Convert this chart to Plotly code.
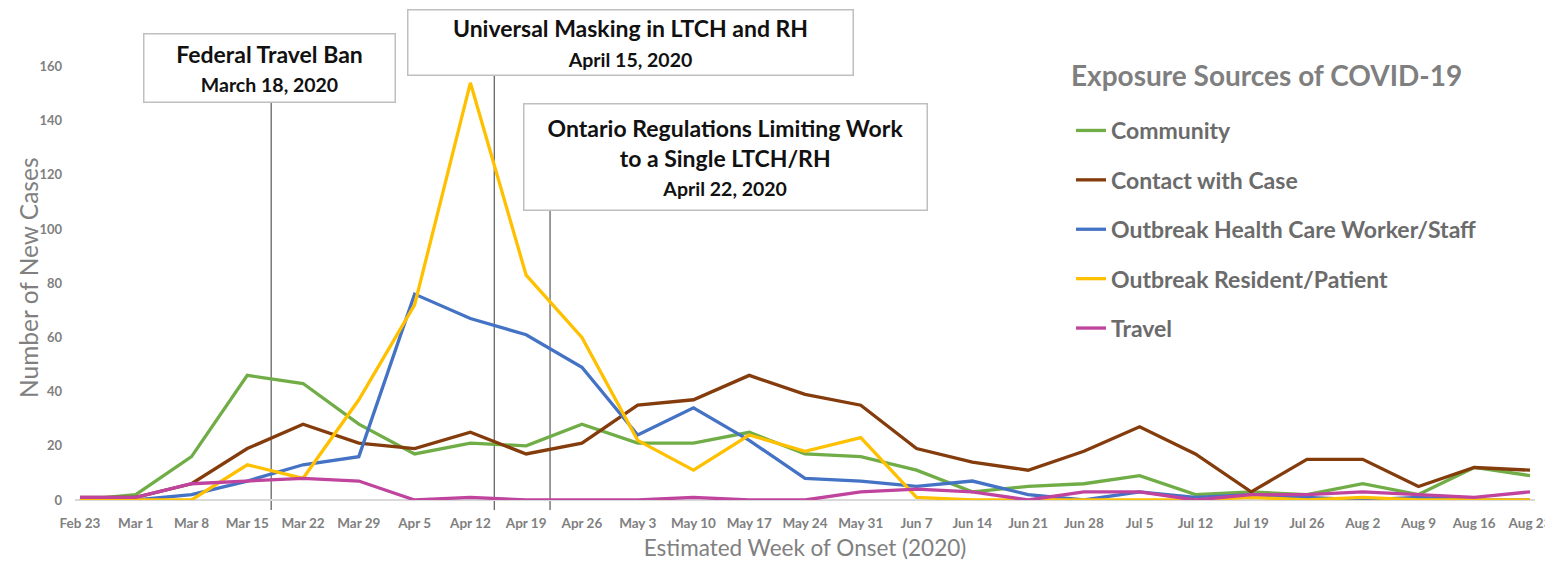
import plotly.graph_objects as go
import pandas as pd

weeks = pd.date_range("2020-02-23", "2020-08-23", freq="7D")
week_labels = ["Feb 23", "Mar 1", "Mar 8", "Mar 15", "Mar 22", "Mar 29", "Apr 5", "Apr 12",
               "Apr 19", "Apr 26", "May 3", "May 10", "May 17", "May 24", "May 31", "Jun 7",
               "Jun 14", "Jun 21", "Jun 28", "Jul 5", "Jul 12", "Jul 19", "Jul 26", "Aug 2",
               "Aug 9", "Aug 16", "Aug 23"]

community = [0, 2, 16, 46, 43, 28, 17, 21, 20, 28, 21, 21, 25, 17, 16, 11, 3, 5, 6, 9, 2, 3, 2, 6, 2, 12, 9]
contact = [1, 1, 6, 19, 28, 21, 19, 25, 17, 21, 35, 37, 46, 39, 35, 19, 14, 11, 18, 27, 17, 3, 15, 15, 5, 12, 11]
hcw = [0, 0, 2, 7, 13, 16, 76, 67, 61, 49, 24, 34, 22, 8, 7, 5, 7, 2, 0, 3, 1, 2, 1, 0, 1, 0, 0]
resident = [0, 0, 0, 13, 8, 37, 72, 154, 83, 60, 22, 11, 24, 18, 23, 1, 0, 0, 0, 0, 0, 1, 0, 1, 0, 0, 0]
travel = [1, 1, 6, 7, 8, 7, 0, 1, 0, 0, 0, 1, 0, 0, 3, 4, 3, 0, 3, 3, 0, 2, 2, 3, 2, 1, 3]

series_names = ["Community", "Contact with Case", "Outbreak Health Care Worker/Staff",
                "Outbreak Resident/Patient", "Travel"]
series_values = [community, contact, hcw, resident, travel]
series_colors = ["#70AD47", "#843C0C", "#4472C4", "#FFC000", "#C0449E"]

legend_title = "Exposure Sources of COVID-19"
y_title = "Number of New Cases"
x_title = "Estimated Week of Onset (2020)"
event_dates = ["2020-03-18", "2020-04-15", "2020-04-22"]
event_titles = ["Federal Travel Ban", "Universal Masking in LTCH and RH",
                "Ontario Regulations Limiting Work<br>to a Single LTCH/RH"]
event_labels = ["March 18, 2020", "April 15, 2020", "April 22, 2020"]

FONT = "Lato"
GRAY = "#808080"

# page geometry: the figure sits 8px in from the page's top-left (body margin)
OFF = 8
FIG_W, FIG_H = 1553 - OFF, 566 - OFF
PLOT_L, PLOT_R, PLOT_T, PLOT_B = 75, 1535, 53, 500   # page px
L = PLOT_L - OFF
R = FIG_W - (PLOT_R - OFF)
T = PLOT_T - OFF
B = FIG_H - (PLOT_B - OFF)
W = PLOT_R - PLOT_L
H = PLOT_B - PLOT_T


def px_x(px):
    return (px - PLOT_L) / W


def px_y(py):
    return (PLOT_B - py) / H


fig = go.Figure()
for i, (name, vals, col) in enumerate(zip(series_names, series_values, series_colors)):
    fig.add_trace(go.Scatter(x=weeks, y=vals, mode="lines", name=name,
                             legendgroup=f"g{i}",
                             line=dict(color=col, width=3.3)))

# vertical event lines
line_tops_px = [102, 75, 210]
for d, top in zip(event_dates, line_tops_px):
    fig.add_shape(type="line", xref="x", yref="paper", x0=d, x1=d,
                  y0=px_y(510), y1=px_y(top),
                  line=dict(color="#595959", width=1.2), layer="below")

# annotation boxes (center px, width, height)
boxes = [(269, 67.5, 250, 67), (630, 42, 444, 64), (725, 156.5, 402, 105)]
for (cx, cy, bw, bh), title, lab in zip(boxes, event_titles, event_labels):
    fig.add_annotation(
        xref="paper", yref="paper",
        x=px_x(cx), y=px_y(cy),
        xanchor="center", yanchor="middle",
        text=f"<b>{title}</b><br><span style='font-size:19.5px'><b>{lab}</b></span>",
        showarrow=False, align="center", valign="middle",
        width=bw, height=bh, borderpad=0,
        bgcolor="white", bordercolor="#BFBFBF", borderwidth=1.5,
        font=dict(family=FONT, size=23, color="#111111"),
    )

# legend title as annotation
fig.add_annotation(
    xref="paper", yref="paper", x=px_x(1069), y=px_y(75),
    xanchor="left", yanchor="middle", showarrow=False,
    text=f"<b>{legend_title}</b>",
    font=dict(family=FONT, size=28, color="#7F7F7F"),
)

# y axis title as rotated annotation
fig.add_annotation(
    xref="paper", yref="paper", x=px_x(28), y=px_y(278),
    xanchor="center", yanchor="middle", showarrow=False, textangle=-90,
    text=y_title, font=dict(family=FONT, size=24.5, color=GRAY),
)

fig.update_layout(
    width=FIG_W, height=FIG_H,
    margin=dict(l=L, r=R, t=T, b=B),
    plot_bgcolor="white", paper_bgcolor="white",
    font=dict(family=FONT, color=GRAY),
    showlegend=True,
    legend=dict(
        x=px_x(1071), y=px_y(109), xanchor="left", yanchor="top",
        font=dict(family=FONT, size=23, color="#6B6B6B", weight="bold"),
        traceorder="grouped", tracegroupgap=16.5, itemwidth=30,
        bgcolor="rgba(0,0,0,0)",
    ),
    xaxis=dict(
        type="date", automargin=False,
        range=[weeks[0] - pd.Timedelta(hours=15), weeks[-1] + pd.Timedelta(hours=15)],
        tickvals=weeks, ticktext=week_labels,
        tickfont=dict(family=FONT, size=13.5, color=GRAY, weight="bold"),
        showgrid=False, zeroline=False, showline=False, ticks="",
        ticklabelstandoff=13,
        title=dict(text=x_title,
                   font=dict(family=FONT, size=22.5, color=GRAY), standoff=10),
    ),
    yaxis=dict(
        range=[0, 165], tickvals=list(range(0, 161, 20)), automargin=False,
        tickfont=dict(family=FONT, size=13, color=GRAY, weight="bold"),
        showgrid=False, zeroline=True, zerolinecolor="#D9D9D9", zerolinewidth=1.5,
        showline=False, ticks="", ticklabelstandoff=12,
    ),
)

fig.write_html("out.html")
